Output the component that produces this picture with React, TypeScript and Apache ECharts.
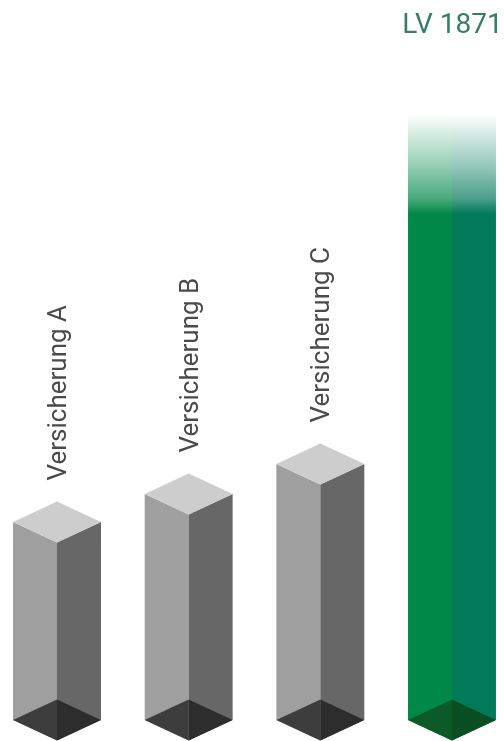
import React, { useEffect, useRef } from "react";
import * as echarts from "echarts";

const categories = ["Versicherung A", "Versicherung B", "Versicherung C", "LV 1871"];
const values = [198, 226, 256, 606];
const highlight = [false, false, false, true];

const FONT = 'Roboto, "Liberation Sans", Arial, sans-serif';

export default function App() {
  const ref = useRef<HTMLDivElement>(null);
  useEffect(() => {
    const chart = echarts.init(ref.current!, null, { renderer: "svg" });
    const option: any = {
      animation: false,
      grid: { left: 0, right: 0, top: 0, bottom: 21 },
      xAxis: { type: "value", min: -0.433, max: 3.395, show: false },
      yAxis: { type: "value", min: 0, max: 720, show: false },
      series: [
        {
          type: "custom",
          data: values.map((v, i) => [i, v]),
          clip: false,
          renderItem: (params: any, api: any) => {
            const i = api.value(0);
            const base = api.coord([i, 0]);
            const top = api.coord([i, api.value(1)]);
            const unit = api.size([1, 0])[0];
            const hw = unit * 0.334;
            const d = hw * 0.465;
            const c = base[0];
            const L = c - hw;
            const R = c + hw;
            const yb = base[1];
            const yt = top[1];
            const children: any[] = [];
            if (!highlight[i]) {
              children.push(
                { type: "polygon", shape: { points: [[L, yt], [c, yt + d], [c, yb + d], [L, yb]] }, style: { fill: "#9f9f9f" } },
                { type: "polygon", shape: { points: [[c, yt + d], [R, yt], [R, yb], [c, yb + d]] }, style: { fill: "#676767" } },
                { type: "polygon", shape: { points: [[c, yt - d], [R, yt], [c, yt + d], [L, yt]] }, style: { fill: "#cdcdcd" } },
                { type: "polygon", shape: { points: [[L, yb], [c, yb - d], [c, yb + d]] }, style: { fill: "#3d3d3d" } },
                { type: "polygon", shape: { points: [[c, yb - d], [R, yb], [c, yb + d]] }, style: { fill: "#2d2d2d" } },
                {
                  type: "text",
                  x: c,
                  y: yt - d - 21,
                  rotation: Math.PI / 2,
                  style: {
                    text: categories[i],
                    align: "left",
                    verticalAlign: "middle",
                    fontSize: 26,
                    fontFamily: FONT,
                    fill: "#4a4a4a",
                  },
                }
              );
            } else {
              const fade = 100;
              const grad = (col: string) =>
                new echarts.graphic.LinearGradient(
                  0, yt, 0, yt + fade,
                  [
                    { offset: 0, color: col.replace("A", "0") },
                    { offset: 0.5, color: col.replace("A", "0.4") },
                    { offset: 0.85, color: col.replace("A", "0.72") },
                    { offset: 1, color: col.replace("A", "1") },
                  ],
                  true
                );
              children.push(
                { type: "polygon", shape: { points: [[L, yt], [c, yt], [c, yb + d], [L, yb]] }, style: { fill: grad("rgba(0,136,72,A)") } },
                { type: "polygon", shape: { points: [[c, yt], [R, yt], [R, yb], [c, yb + d]] }, style: { fill: grad("rgba(2,122,90,A)") } },
                { type: "polygon", shape: { points: [[L, yb], [c, yb - d], [c, yb + d]] }, style: { fill: "#0c5a28" } },
                { type: "polygon", shape: { points: [[c, yb - d], [R, yb], [c, yb + d]] }, style: { fill: "#0a4e23" } },
                {
                  type: "text",
                  x: c + 0.5,
                  y: 23,
                  style: {
                    text: categories[i],
                    align: "center",
                    verticalAlign: "middle",
                    fontSize: 28,
                    fontFamily: FONT,
                    fill: "#357f63",
                  },
                }
              );
            }
            return { type: "group", children };
          },
        },
      ],
    };
    chart.setOption(option);
    return () => chart.dispose();
  }, []);
  return (
    <div
      ref={ref}
      style={{ position: "fixed", left: 0, top: 0, width: 504, height: 741 }}
    />
  );
}
